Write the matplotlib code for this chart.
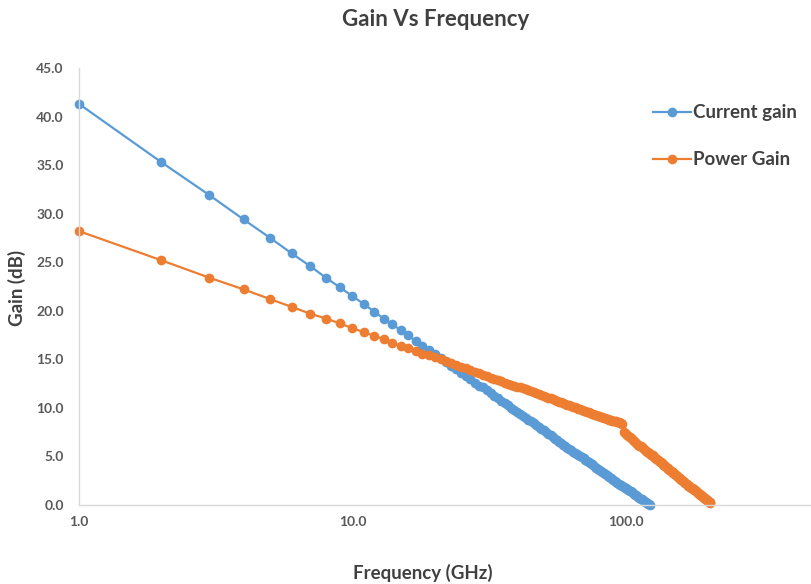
import matplotlib
matplotlib.use("Agg")
import matplotlib.pyplot as plt
from matplotlib.ticker import FixedLocator, FixedFormatter, NullLocator

plt.rcParams['font.family'] = ['Lato', 'DejaVu Sans']

# Frequency sweep in GHz (1 GHz steps)
freq_current = list(range(1, 123))
current_gain = [
    41.3, 35.3, 31.9, 29.4, 27.5, 25.9, 24.6, 23.4, 22.4, 21.5,
    20.7, 19.9, 19.2, 18.6, 18.0, 17.5, 16.9, 16.4, 16.0, 15.5,
    15.1, 14.7, 14.3, 14.0, 13.6, 13.3, 13.0, 12.6, 12.3, 12.1,
    11.8, 11.5, 11.2, 11.0, 10.7, 10.5, 10.3, 10.0, 9.8, 9.6,
    9.4, 9.2, 9.0, 8.8, 8.6, 8.4, 8.2, 8.0, 7.8, 7.7,
    7.5, 7.3, 7.2, 7.0, 6.8, 6.7, 6.5, 6.4, 6.2, 6.1,
    5.9, 5.8, 5.7, 5.5, 5.4, 5.3, 5.1, 5.0, 4.9, 4.8,
    4.6, 4.5, 4.4, 4.3, 4.2, 4.1, 3.9, 3.8, 3.7, 3.6,
    3.5, 3.4, 3.3, 3.2, 3.1, 3.0, 2.9, 2.8, 2.7, 2.6,
    2.5, 2.4, 2.3, 2.2, 2.1, 2.1, 2.0, 1.9, 1.8, 1.7,
    1.6, 1.5, 1.4, 1.4, 1.3, 1.2, 1.1, 1.0, 1.0, 0.9,
    0.8, 0.7, 0.6, 0.6, 0.5, 0.4, 0.3, 0.3, 0.2, 0.1,
    0.1, 0.0,
]

freq_power = list(range(1, 204))
power_gain = [
    28.2, 25.2, 23.4, 22.2, 21.2, 20.4, 19.7, 19.2, 18.7, 18.2,
    17.8, 17.4, 17.1, 16.7, 16.4, 16.2, 15.9, 15.6, 15.4, 15.2,
    15.0, 14.8, 14.6, 14.4, 14.2, 14.1, 13.9, 13.7, 13.6, 13.4,
    13.3, 13.1, 13.0, 12.9, 12.8, 12.6, 12.5, 12.4, 12.3, 12.2,
    12.1, 12.0, 11.9, 11.8, 11.7, 11.6, 11.5, 11.4, 11.3, 11.2,
    11.1, 11.0, 11.0, 10.9, 10.8, 10.7, 10.6, 10.6, 10.5, 10.4,
    10.3, 10.3, 10.2, 10.1, 10.1, 10.0, 9.9, 9.9, 9.8, 9.7,
    9.7, 9.6, 9.6, 9.5, 9.4, 9.4, 9.3, 9.3, 9.2, 9.2,
    9.1, 9.1, 9.0, 9.0, 8.9, 8.9, 8.8, 8.8, 8.7, 8.7,
    8.6, 8.6, 8.5, 8.5, 8.4, 8.4, 8.3, 7.5, 7.4, 7.3,
    7.2, 7.1, 7.0, 6.9, 6.8, 6.7, 6.6, 6.5, 6.4, 6.3,
    6.2, 6.1, 6.1, 6.0, 5.9, 5.8, 5.7, 5.6, 5.5, 5.5,
    5.4, 5.3, 5.2, 5.1, 5.1, 5.0, 4.9, 4.8, 4.7, 4.7,
    4.6, 4.5, 4.4, 4.4, 4.3, 4.2, 4.1, 4.1, 4.0, 3.9,
    3.8, 3.8, 3.7, 3.6, 3.6, 3.5, 3.4, 3.4, 3.3, 3.2,
    3.2, 3.1, 3.0, 3.0, 2.9, 2.8, 2.8, 2.7, 2.6, 2.6,
    2.5, 2.5, 2.4, 2.3, 2.3, 2.2, 2.2, 2.1, 2.0, 2.0,
    1.9, 1.9, 1.8, 1.7, 1.7, 1.6, 1.6, 1.5, 1.5, 1.4,
    1.4, 1.3, 1.2, 1.2, 1.1, 1.1, 1.0, 1.0, 0.9, 0.9,
    0.8, 0.8, 0.7, 0.7, 0.6, 0.6, 0.5, 0.5, 0.4, 0.4,
    0.3, 0.3, 0.2,
]

x_ticks = [1, 10, 100]
x_tick_labels = ["1.0", "10.0", "100.0"]
y_ticks = [0, 5, 10, 15, 20, 25, 30, 35, 40, 45]
y_tick_labels = ["0.0", "5.0", "10.0", "15.0", "20.0", "25.0", "30.0", "35.0", "40.0", "45.0"]

BLUE = "#5B9BD5"
ORANGE = "#ED7D31"
AXIS_GRAY = "#D9D9D9"
TEXT_GRAY = "#595959"
DARK = "#404040"

fig = plt.figure(figsize=(8.12, 5.84), dpi=100)
ax = fig.add_axes([79 / 812, 1 - 505 / 584, (812 - 79) / 812, (505 - 68) / 584])

ax.plot(freq_current, current_gain, color=BLUE, lw=1.6, marker="o",
        markersize=7, markeredgewidth=0, label="Current gain", clip_on=False)
ax.plot(freq_power, power_gain, color=ORANGE, lw=1.6, marker="o",
        markersize=7, markeredgewidth=0, label="Power Gain", clip_on=False)

ax.set_xscale("log")
ax.set_xlim(1, 10 ** ((812 - 79) / 273.5))
ax.set_ylim(0, 45)

ax.xaxis.set_major_locator(FixedLocator(x_ticks))
ax.xaxis.set_major_formatter(FixedFormatter(x_tick_labels))
ax.xaxis.set_minor_locator(NullLocator())
ax.yaxis.set_major_locator(FixedLocator(y_ticks))
ax.yaxis.set_major_formatter(FixedFormatter(y_tick_labels))

ax.tick_params(axis="both", length=0, labelsize=10, labelcolor=TEXT_GRAY)
ax.tick_params(axis="y", pad=11)
ax.tick_params(axis="x", pad=8)
for lbl in ax.get_xticklabels() + ax.get_yticklabels():
    lbl.set_fontweight("bold")

for side in ("top", "right"):
    ax.spines[side].set_visible(False)
for side in ("left", "bottom"):
    ax.spines[side].set_color(AXIS_GRAY)
    ax.spines[side].set_linewidth(1.0)

fig.text(436 / 812, 1 - 19 / 584, "Gain Vs Frequency", ha="center", va="center",
         fontsize=16, fontweight="bold", color=DARK)
fig.text(423 / 812, 1 - 573 / 584, "Frequency (GHz)", ha="center", va="center",
         fontsize=13.5, fontweight="bold", color=DARK)
fig.text(17 / 812, 1 - 288 / 584, "Gain (dB)", ha="center", va="center",
         rotation=90, fontsize=13.5, fontweight="bold", color=DARK)

leg = ax.legend(loc="upper left", bbox_to_anchor=(644 / 812, 1 - 95 / 584),
                bbox_transform=fig.transFigure, frameon=False,
                prop={"weight": "bold", "size": 13.5}, labelspacing=1.6,
                handlelength=2.0, handletextpad=0.1, borderpad=0)
for txt in leg.get_texts():
    txt.set_color(DARK)

fig.savefig("out.png", dpi=100)
